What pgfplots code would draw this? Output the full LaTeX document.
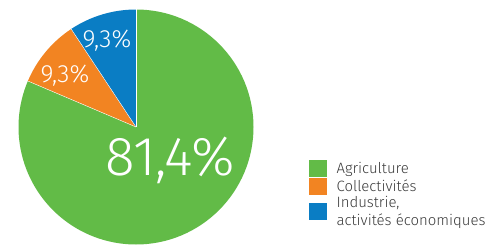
\documentclass[border=0pt]{standalone}
\usepackage{pgfplots}
\usepackage{pgfplotstable}
\pgfplotsset{compat=1.18}
\usepackage{fontspec}
\setmainfont{Fira Sans}
\newfontfamily\lightfont{Fira Sans Light}
\definecolor{piegreen}{HTML}{62BB47}
\definecolor{pieorange}{HTML}{F28422}
\definecolor{pieblue}{HTML}{0A7DC4}
\definecolor{legtext}{HTML}{3A3A3A}
\pgfplotstableread{
label value
Agriculture 81.4
Collectivites 9.3
Industrie 9.3
}\piedata
\begin{document}
\begin{tikzpicture}
\pgfplotstablegetelem{0}{value}\of\piedata \let\vA\pgfplotsretval
\pgfplotstablegetelem{1}{value}\of\piedata \let\vB\pgfplotsretval
\pgfplotstablegetelem{2}{value}\of\piedata \let\vC\pgfplotsretval
\pgfmathsetmacro\aS{90}
\pgfmathsetmacro\aA{90-3.6*\vA}
\pgfmathsetmacro\aB{\aA-3.6*\vB}
\pgfmathsetmacro\aC{\aB-3.6*\vC}
\useasboundingbox (0,0) rectangle (486bp,249bp);
\begin{axis}[
  at={(0,0)}, anchor=south west,
  hide axis, scale only axis,
  x=1bp, y=1bp,
  xmin=0, xmax=486, ymin=0, ymax=249,
  clip=false,
  legend style={at={(axis cs:306,91)}, anchor=north west, draw=none, fill=none,
    font=\lightfont\fontsize{15}{18.5}\selectfont\color{legtext},
    nodes={align=left, inner sep=1bp},
    row sep=1bp},
  legend cell align=left,
  legend image code/.code={\fill[#1] (1bp,-7.5bp) rectangle (18bp,8.5bp); \path (27bp,0bp);},
]
\addlegendimage{piegreen}\addlegendentry{Agriculture}
\addlegendimage{pieorange}\addlegendentry{Collectivités}
\addlegendimage{pieblue}\addlegendentry{Industrie,\\activités économiques}
\fill[piegreen] (axis cs:136,122) -- ++(\aS:117.5bp) arc[start angle=\aS, end angle=\aA, radius=117.5bp] -- cycle;
\fill[pieorange] (axis cs:136,122) -- ++(\aA:117.5bp) arc[start angle=\aA, end angle=\aB, radius=117.5bp] -- cycle;
\fill[pieblue] (axis cs:136,122) -- ++(\aB:117.5bp) arc[start angle=\aB, end angle=\aC, radius=117.5bp] -- cycle;
\draw[white, line width=0.4bp] (axis cs:136,122) -- ++(\aS:117.5bp);
\draw[white, line width=0.4bp] (axis cs:136,122) -- ++(\aA:117.5bp);
\draw[white, line width=0.4bp] (axis cs:136,122) -- ++(\aB:117.5bp);
\node[white, font=\lightfont\fontsize{55}{55}\selectfont] at (axis cs:170,89) {81,4\%};
\node[white, font=\lightfont\fontsize{25}{25}\selectfont] at (axis cs:107,208) {9,3\%};
\node[white, font=\lightfont\fontsize{25}{25}\selectfont] at (axis cs:65,173) {9,3\%};
\end{axis}
\end{tikzpicture}
\end{document}
